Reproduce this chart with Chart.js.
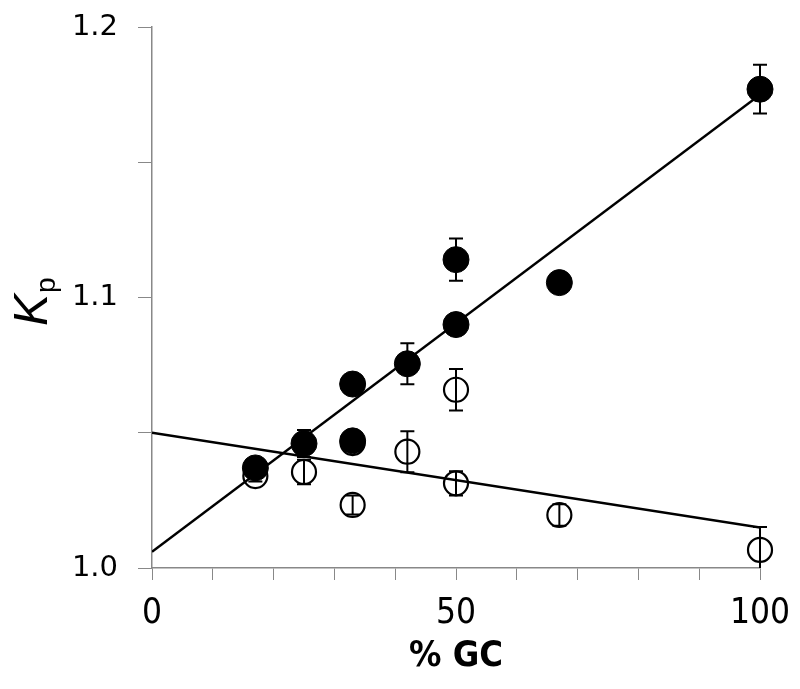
<!DOCTYPE html>
<html>
<head>
<meta charset="utf-8">
<script src="https://cdn.jsdelivr.net/npm/chart.js@4"></script>
<style>
  html, body { margin: 0; padding: 0; background: #fff; }
</style>
</head>
<body>
<canvas id="kp" width="800" height="689"></canvas>
<script>
// filled circles
const gcFilled = [17, 25, 33, 33, 42, 50, 50, 67, 100]
const kpFilled = [1.037, 1.046, 1.068, 1.047, 1.0755, 1.090, 1.114, 1.1055, 1.177]
const errFilled = [0.002, 0.005, 0.002, 0.003, 0.0076, 0.002, 0.0078, 0.003, 0.009]

// open circles
const gcOpen = [17, 25, 33, 33, 42, 50, 50, 67, 100]
const kpOpen = [1.034, 1.0355, 1.0233, 1.0462, 1.043, 1.0659, 1.0313, 1.0196, 1.0067]
const errOpen = [0.002, 0.0045, 0.0035, 0.002, 0.0076, 0.0077, 0.0045, 0.004, 0.0085]

// linear fits (end points)
const fitX = [0, 100]
const fitFilled = [1.006, 1.175]
const fitOpen = [1.050, 1.015]

const xTicks = [0, 50, 100]
const yTicks = [1.0, 1.1, 1.2]

const pts = (xs, ys) => xs.map((x, i) => ({ x: x, y: ys[i] }))

// error bars, drawn after the points
const errorBars = {
  id: 'errorBars',
  afterDatasetsDraw(chart) {
    const { ctx, chartArea, scales } = chart
    ctx.save()
    ctx.beginPath()
    ctx.rect(chartArea.left, chartArea.top - 20, chartArea.right - chartArea.left + 20, chartArea.bottom - chartArea.top + 20)
    ctx.clip()
    ctx.strokeStyle = '#000'
    ctx.lineWidth = 2
    chart.data.datasets.forEach(ds => {
      if (!ds.errors) return
      ds.data.forEach((p, i) => {
        const x = scales.x.getPixelForValue(p.x)
        const y1 = scales.y.getPixelForValue(p.y + ds.errors[i])
        const y2 = scales.y.getPixelForValue(p.y - ds.errors[i])
        ctx.beginPath()
        ctx.moveTo(x, y1); ctx.lineTo(x, y2)
        ctx.moveTo(x - 7, y1); ctx.lineTo(x + 7, y1)
        ctx.moveTo(x - 7, y2); ctx.lineTo(x + 7, y2)
        ctx.stroke()
      })
    })
    ctx.restore()
  }
}

// y axis title: italic K with subscript p
const yTitle = {
  id: 'yTitle',
  afterDraw(chart) {
    const ctx = chart.ctx
    ctx.save()
    ctx.translate(47, 326)
    ctx.rotate(-Math.PI / 2)
    ctx.fillStyle = '#000'
    ctx.textBaseline = 'alphabetic'
    ctx.textAlign = 'left'
    ctx.font = 'italic 48px "Liberation Sans"'
    ctx.fillText('K', 0, 0)
    const w = ctx.measureText('K').width
    ctx.font = '28px "Liberation Sans"'
    ctx.fillText('p', w + 1, 8)
    ctx.restore()
  }
}

const narrow = '"DejaVu Sans Condensed", "Liberation Sans", sans-serif'

new Chart(document.getElementById('kp'), {
  type: 'scatter',
  data: {
    datasets: [
      {
        data: pts(gcFilled, kpFilled),
        errors: errFilled,
        pointRadius: 13,
        pointHoverRadius: 13,
        backgroundColor: '#000',
        borderColor: '#000',
        borderWidth: 1,
        clip: false,
        order: 0
      },
      {
        data: pts(gcOpen, kpOpen),
        errors: errOpen,
        pointRadius: 12,
        pointHoverRadius: 12,
        backgroundColor: 'rgba(0,0,0,0)',
        borderColor: '#000',
        borderWidth: 2.2,
        clip: false,
        order: 1
      },
      {
        data: pts(fitX, fitFilled),
        showLine: true,
        pointRadius: 0,
        borderColor: '#000',
        borderWidth: 2.5,
        order: 2
      },
      {
        data: pts(fitX, fitOpen),
        showLine: true,
        pointRadius: 0,
        borderColor: '#000',
        borderWidth: 2.5,
        order: 3
      }
    ]
  },
  options: {
    responsive: false,
    animation: false,
    layout: { padding: { top: 27, right: 40, left: 0, bottom: 0 } },
    plugins: { legend: { display: false }, tooltip: { enabled: false } },
    scales: {
      x: {
        type: 'linear',
        min: 0,
        max: 100,
        afterFit: s => { s.height = 121; s.paddingLeft = 0; s.paddingRight = 0 },
        ticks: {
          stepSize: 10,
          autoSkip: false,
          maxRotation: 0,
          padding: 13,
          color: '#000',
          font: { family: narrow, size: 35 },
          callback: v => xTicks.includes(v) ? String(v) : ''
        },
        grid: { drawOnChartArea: false, drawTicks: true, tickLength: 12, color: '#888' },
        border: { color: '#888', width: 1.5 },
        title: {
          display: true,
          text: '% GC',
          color: '#000',
          font: { family: narrow, size: 36, weight: 'bold' },
          padding: { top: 0, bottom: 11 }
        }
      },
      y: {
        min: 1.0,
        max: 1.2,
        afterFit: s => { s.width = 152; s.paddingTop = 0; s.paddingBottom = 0 },
        ticks: {
          stepSize: 0.05,
          autoSkip: false,
          padding: 20,
          color: '#000',
          font: { family: '"DejaVu Sans", sans-serif', size: 29 },
          callback: v => yTicks.some(t => Math.abs(t - v) < 1e-6) ? v.toFixed(1) : ''
        },
        grid: { drawOnChartArea: false, drawTicks: true, tickLength: 14, color: '#888' },
        border: { color: '#888', width: 1.5 }
      }
    }
  },
  plugins: [errorBars, yTitle]
})
</script>
</body>
</html>
